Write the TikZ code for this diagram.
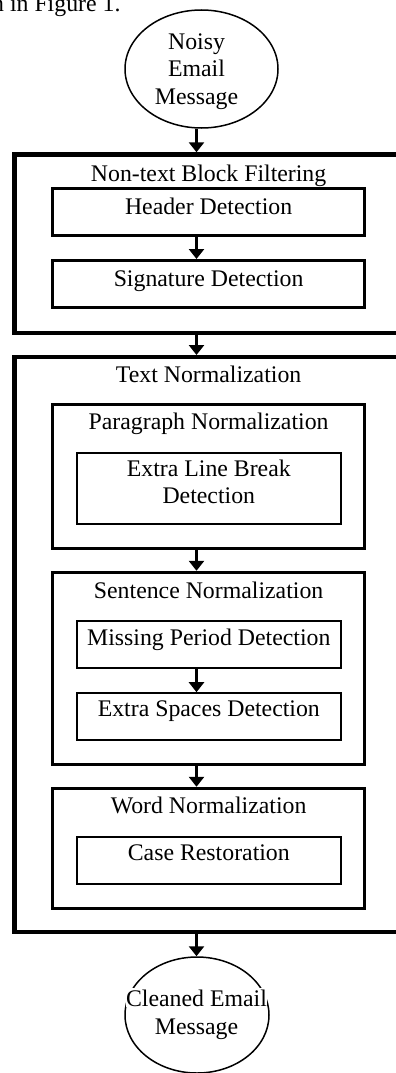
\documentclass[tikz,border=0pt]{standalone}
\usepackage{fontspec}
\setmainfont{Liberation Serif}
\usetikzlibrary{arrows.meta,shapes.geometric}
\begin{document}
\begin{tikzpicture}[x=1pt,y=-1pt,
  outerbox/.style={draw,rectangle,line width=4.4pt,inner sep=0pt,minimum width=388.2pt},
  midbox/.style={draw,rectangle,line width=3pt,inner sep=0pt,minimum width=312pt},
  innerbox/.style={draw,rectangle,line width=2.2pt,inner sep=0pt,minimum width=264pt},
  oval/.style={draw,ellipse,line width=1.5pt,inner sep=0pt},
  lbl/.style={anchor=base,inner sep=0pt,font=\fontsize{23.8}{27.5}\selectfont},
  arr/.style={line width=2.6pt,-{Triangle[length=10pt,width=15pt]}}]
\clip (0,0) rectangle (396,1073);
\fill[white] (0,0) rectangle (396,1073);
\coordinate (ax) at (196.5,0);
% top cut-off text
\node[lbl,anchor=base west] (fig) at (-8,11.5) {n in Figure 1.};
% start ellipse
\node[oval,minimum width=153pt,minimum height=118pt] (start) at (201.5,69) {};
\node[lbl] (t1) at (196.5,49.5) {Noisy};
\node[lbl] (t2) at (196.5,76.5) {Email};
\node[lbl] (t3) at (196.5,104) {Message};
% block 1
\node[outerbox,minimum height=178.3pt] (o1) at (208.6,243.65) {};
\node[lbl] (o1t) at (208.6,181.7) {Non-text Block Filtering};
\node[midbox,minimum height=47pt] (hd) at (208.6,211.6) {};
\node[lbl] (hdt) at (208.6,214.3) {Header Detection};
\node[midbox,minimum height=47pt] (sd) at (208.6,284) {};
\node[lbl] (sdt) at (208.6,286) {Signature Detection};
% block 2
\node[outerbox,minimum height=574.5pt] (o2) at (208.6,644.45) {};
\node[lbl] (o2t) at (208.6,382.6) {Text Normalization};
\node[midbox,minimum height=144pt] (pn) at (208.6,476.3) {};
\node[lbl] (pnt) at (208.6,429.3) {Paragraph Normalization};
\node[innerbox,minimum height=71.6pt] (lb) at (208.8,488.5) {};
\node[lbl] (lbt1) at (208.8,476) {Extra Line Break};
\node[lbl] (lbt2) at (208.8,503.3) {Detection};
\node[midbox,minimum height=191.7pt] (sn) at (208.6,668.15) {};
\node[lbl] (snt) at (208.6,598.3) {Sentence Normalization};
\node[innerbox,minimum height=47.6pt] (mp) at (208.8,644.5) {};
\node[lbl] (mpt) at (208.8,645) {Missing Period Detection};
\node[innerbox,minimum height=46.7pt] (es) at (208.8,716.65) {};
\node[lbl] (est) at (208.8,716) {Extra Spaces Detection};
\node[midbox,minimum height=120pt] (wn) at (208.6,848.3) {};
\node[lbl] (wnt) at (208.6,813.3) {Word Normalization};
\node[innerbox,minimum height=47.3pt] (cr) at (208.8,860.35) {};
\node[lbl] (crt) at (208.8,860.7) {Case Restoration};
% end ellipse
\node[oval,minimum width=144pt,minimum height=116pt] (end) at (197,1015) {};
\node[lbl,fill=white,inner ysep=1pt] (e1) at (196.5,1006) {Cleaned Email};
\node[lbl,fill=white,inner ysep=1pt] (e2) at (196.5,1034.3) {Message};
% arrows
\draw[arr] (start.south -| ax) -- (o1.north -| ax);
\draw[arr] (hd.south -| ax) -- (sd.north -| ax);
\draw[arr] (o1.south -| ax) -- (o2.north -| ax);
\draw[arr] (pn.south -| ax) -- (sn.north -| ax);
\draw[arr] (mp.south -| ax) -- (es.north -| ax);
\draw[arr] (sn.south -| ax) -- (wn.north -| ax);
\draw[arr] (o2.south -| ax) -- (end.north -| ax);
\end{tikzpicture}
\end{document}
